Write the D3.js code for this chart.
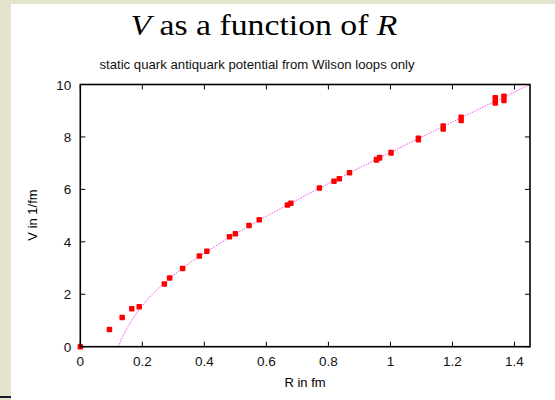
<!DOCTYPE html>
<html>
<head>
<meta charset="utf-8">
<script src="https://cdn.jsdelivr.net/npm/d3@7"></script>
<style>
  html, body { margin:0; padding:0; background:#e4e4cc; }
  svg { display:block; }
  .tick-lbl { font-family:"Liberation Sans", Arial, sans-serif; font-size:13.5px; fill:#111; }
</style>
</head>
<body>
<svg id="chart" width="555" height="400"></svg>
<script>
'use strict';
// measured values (R in fm, V in 1/fm)
const rVals = [0, 0.094, 0.135, 0.166, 0.190, 0.271, 0.288, 0.330, 0.384, 0.408, 0.481, 0.500, 0.544, 0.577,
  0.668, 0.679, 0.771, 0.818, 0.835, 0.868, 0.955, 0.965, 1.002, 1.090, 1.170, 1.228, 1.338, 1.366];
const vVals = [0, 0.66, 1.11, 1.45, 1.52, 2.39, 2.62, 2.98, 3.46, 3.64, 4.19, 4.31, 4.62, 4.84,
  5.40, 5.47, 6.05, 6.31, 6.41, 6.63, 7.13, 7.21, 7.40, 7.92, 8.36, 8.69, 9.39, 9.47];
const vErr = [0, 0, 0, 0, 0, 0, 0, 0, 0, 0, 0, 0, 0, 0,
  0, 0, 0, 0, 0, 0, 0.01, 0.01, 0.01, 0.03, 0.06, 0.06, 0.10, 0.08];
// fit curve
const fitR = [0.1226, 0.14, 0.16, 0.19, 0.23, 0.28, 0.35, 0.45, 0.6, 0.8, 1.0, 1.2, 1.45];
const fitV = [0, 0.46, 0.89, 1.42, 1.97, 2.52, 3.17, 3.94, 4.97, 6.22, 7.41, 8.57, 10.0];
const xTicks = [0, 0.2, 0.4, 0.6, 0.8, 1, 1.2, 1.4];
const yTicks = [0, 2, 4, 6, 8, 10];

const svg = d3.select('#chart');
svg.append('rect').attr('x',11).attr('y',4).attr('width',544).attr('height',396).attr('fill','#fff');
svg.append('rect').attr('x',0).attr('y',396).attr('width',11).attr('height',2).attr('fill','#1b1b2b');

const L = 80.3, R = 530, T = 84.5, B = 346.7;
const x = d3.scaleLinear().domain([0, 1.45]).range([L, R]);
const y = d3.scaleLinear().domain([0, 10]).range([B, T]);

// titles
const title = svg.append('text').attr('x',264).attr('y',35).attr('text-anchor','middle')
  .attr('textLength',267).attr('lengthAdjust','spacingAndGlyphs')
  .style('font-family','"Liberation Serif", "DejaVu Serif", serif').style('font-size','30px');
title.append('tspan').style('font-style','italic').text('V');
title.append('tspan').text(' as a function of ');
title.append('tspan').style('font-style','italic').text('R');

svg.append('text').attr('x',257).attr('y',69).attr('text-anchor','middle')
  .style('font-family','"Liberation Sans", Arial, sans-serif').style('font-size','13.2px').style('fill','#111')
  .text('static quark antiquark potential from Wilson loops only');

svg.append('text').attr('x',305).attr('y',387).attr('text-anchor','middle')
  .style('font-family','"Liberation Sans", Arial, sans-serif').style('font-size','13px').text('R in fm');
svg.append('text').attr('transform','translate(37,215) rotate(-90)').attr('text-anchor','middle')
  .style('font-family','"Liberation Sans", Arial, sans-serif').style('font-size','13px').text('V in 1/fm');

// axes: ticks inward on all four sides
const tk = 5;
const ax = svg.append('g').attr('stroke','#000').attr('stroke-width',1);
xTicks.forEach(t => {
  ax.append('line').attr('x1',x(t)).attr('x2',x(t)).attr('y1',B).attr('y2',B-tk);
  ax.append('line').attr('x1',x(t)).attr('x2',x(t)).attr('y1',T).attr('y2',T+tk);
});
yTicks.forEach(t => {
  ax.append('line').attr('x1',L).attr('x2',L+tk).attr('y1',y(t)).attr('y2',y(t));
  ax.append('line').attr('x1',R).attr('x2',R-tk).attr('y1',y(t)).attr('y2',y(t));
});
svg.selectAll('.xl').data(xTicks).join('text').attr('class','tick-lbl')
  .attr('x',d=>x(d)).attr('y',B+19.5).attr('text-anchor','middle').text(d=>d3.format('~g')(d));
svg.selectAll('.yl').data(yTicks).join('text').attr('class','tick-lbl')
  .attr('x',L-9).attr('y',d=>y(d)+5).attr('text-anchor','end').text(d=>d);

// fit curve
const fit = fitR.map((r,i) => [r, fitV[i]]);
svg.append('path').datum(fit).attr('fill','none').attr('stroke','#ee55ee').attr('stroke-width',1)
  .attr('stroke-dasharray','1.5,1.2')
  .attr('d', d3.line().x(d=>x(d[0])).y(d=>y(d[1])).curve(d3.curveCatmullRom));

// data points
const pts = rVals.map((r,i) => ({ r, v: vVals[i], e: vErr[i] }));
const ms = 5.5;
svg.append('g').selectAll('rect').data(pts).join('rect')
  .attr('x', d=>x(d.r)-ms/2).attr('y', d=>y(d.v+d.e)-ms/2)
  .attr('width', ms).attr('height', d=>y(d.v-d.e)-y(d.v+d.e)+ms)
  .attr('rx',1).attr('fill','#ff0000');

// frame
svg.append('rect').attr('x',L).attr('y',T).attr('width',R-L).attr('height',B-T)
  .attr('fill','none').attr('stroke','#000').attr('stroke-width',1.6);
</script>
</body>
</html>
